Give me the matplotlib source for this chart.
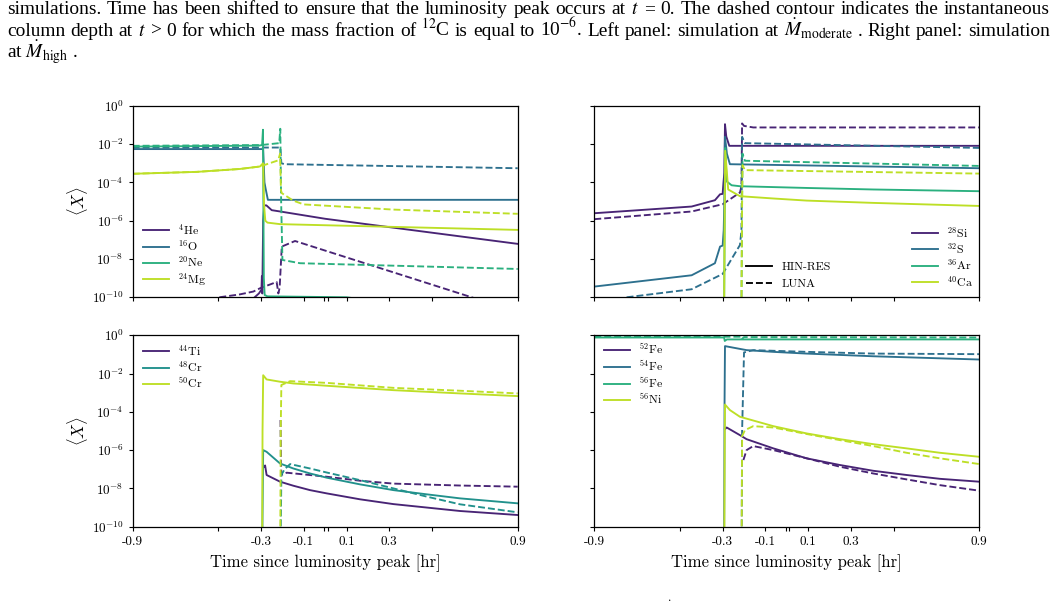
import re
import numpy as np
import matplotlib
matplotlib.use("Agg")
import matplotlib.pyplot as plt
from matplotlib.lines import Line2D
from matplotlib.ticker import FixedLocator, FixedFormatter, NullLocator

plt.rcParams['font.family'] = ['cmr10', 'DejaVu Serif']
plt.rcParams['mathtext.fontset'] = 'cm'
plt.rcParams['axes.unicode_minus'] = False
plt.rcParams['axes.formatter.use_mathtext'] = True

# ---------------- data (time in hr, log10 of mass fraction) ----------------
# Top-left panel: He, O, Ne, Mg
he4_sol_t = [-0.36, -0.33, -0.31, -0.298, -0.296, -0.294, -0.29, -0.285, -0.275, -0.25, -0.21, 0.0, 0.9]
he4_sol_x = [-10.3, -10.0, -9.8, -9.6, -8.9, -9.8, -6.0, -5.2, -5.2, -5.45, -5.52, -5.9, -7.21]
he4_dash_t = [-0.495, -0.4, -0.336, -0.305, -0.227, -0.219, -0.213, -0.203, -0.141, 0.685, 0.9]
he4_dash_x = [-10.0, -9.85, -9.7, -9.53, -9.2, -9.8, -9.5, -7.35, -7.06, -10.0, -10.8]
o16_sol_t = [-0.9, -0.29, -0.284, -0.279, -0.268, 0.9]
o16_sol_x = [-2.26, -2.26, -4.0, -4.3, -4.91, -4.91]
o16_dash_t = [-0.9, -0.21, -0.205, -0.19, 0.9]
o16_dash_x = [-2.18, -2.18, -3.0, -3.05, -3.26]
ne20_sol_t = [-0.9, -0.31, -0.295, -0.291, -0.287, -0.283, -0.27, 0.1, 0.3]
ne20_sol_x = [-2.13, -2.08, -2.05, -1.25, -9.0, -9.88, -9.95, -10.0, -10.3]
ne20_dash_t = [-0.9, -0.3, -0.215, -0.21, -0.206, -0.2, -0.118, 0.9]
ne20_dash_x = [-2.09, -2.05, -1.95, -1.2, -5.0, -8.05, -8.22, -8.52]
mg24_sol_t = [-0.9, -0.6, -0.4, -0.305, -0.295, -0.29, -0.286, -0.28, -0.27, -0.211, 0.9]
mg24_sol_x = [-3.55, -3.45, -3.3, -3.17, -3.05, -3.0, -5.17, -6.0, -6.1, -6.18, -6.48]
mg24_dash_t = [-0.9, -0.6, -0.4, -0.305, -0.22, -0.211, -0.207, -0.203, -0.15, -0.1, 0.319, 0.9]
mg24_dash_x = [-3.55, -3.45, -3.3, -3.17, -2.85, -2.5, -4.4, -4.56, -4.95, -5.15, -5.42, -5.64]

# Top-right panel: Si, S, Ar, Ca
si28_sol_t = [-0.9, -0.445, -0.336, -0.312, -0.3, -0.296, -0.292, -0.289, -0.283, -0.269, 0.9]
si28_sol_x = [-5.61, -5.26, -4.93, -4.62, -4.6, -4.0, -3.5, -0.96, -1.6, -2.09, -2.09]
si28_dash_t = [-0.9, -0.445, -0.3, -0.219, -0.212, -0.209, -0.2, -0.157, 0.9]
si28_dash_x = [-5.92, -5.52, -5.14, -4.53, -4.2, -0.92, -1.05, -1.13, -1.13]
s32_sol_t = [-0.9, -0.445, -0.336, -0.312, -0.3, -0.295, -0.292, -0.289, -0.28, -0.266, 0.9]
s32_sol_x = [-9.44, -8.85, -8.22, -7.35, -7.3, -6.5, -5.0, -1.62, -2.5, -3.05, -3.26]
s32_dash_t = [-0.749, -0.445, -0.3, -0.219, -0.212, -0.209, -0.196, 0.9]
s32_dash_x = [-10.0, -9.58, -8.78, -7.27, -6.5, -1.62, -1.95, -2.2]
ar36_sol_t = [-0.293, -0.29, -0.288, -0.281, -0.258, -0.219, 0.093, 0.404, 0.9]
ar36_sol_x = [-10.5, -5.0, -2.2, -3.95, -4.15, -4.2, -4.29, -4.37, -4.46]
ar36_dash_t = [-0.212, -0.209, -0.207, -0.196, 0.9]
ar36_dash_x = [-10.5, -5.0, -2.5, -2.87, -3.14]
ca40_sol_t = [-0.293, -0.29, -0.288, -0.274, -0.219, -0.063, 0.093, 0.404, 0.9]
ca40_sol_x = [-10.5, -5.0, -2.35, -4.37, -4.72, -4.84, -4.95, -5.07, -5.23]
ca40_dash_t = [-0.212, -0.209, -0.207, -0.196, 0.9]
ca40_dash_x = [-10.5, -5.0, -3.1, -3.36, -3.54]

# Bottom-left panel: Ti, Cr
ti44_sol_t = [-0.283, -0.281, -0.274, -0.211, -0.149, -0.071, 0.007, 0.163, 0.319, 0.475, 0.630, 0.9]
ti44_sol_x = [-6.87, -6.8, -7.3, -7.65, -7.86, -8.09, -8.26, -8.57, -8.82, -9.0, -9.18, -9.39]
ti44_dash_t = [-0.209, -0.207, -0.205, -0.18, 0.007, 0.163, 0.319, 0.630, 0.9]
ti44_dash_x = [-4.43, -6.5, -7.3, -7.18, -7.39, -7.6, -7.75, -7.85, -7.91]
cr48_sol_t = [-0.294, -0.29, -0.274, -0.211, -0.149, -0.071, 0.007, 0.163, 0.319, 0.475, 0.630, 0.9]
cr48_sol_x = [-10.5, -6.0, -6.09, -6.7, -6.96, -7.22, -7.44, -7.79, -8.09, -8.31, -8.52, -8.78]
cr48_dash_t = [-0.208, -0.205, -0.19, -0.164, -0.071, 0.007, 0.163, 0.319, 0.475, 0.630, 0.9]
cr48_dash_x = [-10.5, -7.3, -7.0, -6.73, -6.96, -7.17, -7.57, -8.0, -8.43, -8.83, -9.25]
cr50_sol_t = [-0.2945, -0.293, -0.29, -0.274, -0.211, -0.149, 0.007, 0.319, 0.630, 0.9]
cr50_sol_x = [-10.5, -5.0, -2.09, -2.31, -2.43, -2.52, -2.64, -2.87, -3.04, -3.18]
cr50_dash_t = [-0.21, -0.208, -0.205, -0.164, 0.007, 0.319, 0.630, 0.9]
cr50_dash_x = [-10.5, -5.0, -2.6, -2.40, -2.49, -2.75, -2.9, -3.04]

# Bottom-right panel: Fe, Ni
fe52_sol_t = [-0.289, -0.281, -0.219, -0.188, -0.063, 0.093, 0.249, 0.404, 0.560, 0.716, 0.9]
fe52_sol_x = [-4.9, -4.82, -5.22, -5.43, -5.91, -6.43, -6.78, -7.08, -7.30, -7.50, -7.65]
fe52_dash_t = [-0.203, -0.188, -0.157, -0.063, 0.093, 0.249, 0.404, 0.560, 0.716, 0.9]
fe52_dash_x = [-6.52, -6.0, -5.79, -6.0, -6.43, -6.87, -7.22, -7.53, -7.83, -8.12]
fe54_sol_t = [-0.293, -0.291, -0.289, -0.188, -0.063, 0.093, 0.404, 0.9]
fe54_sol_x = [-10.5, -3.5, -0.57, -0.78, -0.87, -0.96, -1.10, -1.27]
fe54_dash_t = [-0.211, -0.209, -0.2, -0.157, 0.093, 0.404, 0.9]
fe54_dash_x = [-10.5, -5.0, -0.9, -0.78, -0.87, -0.96, -0.99]
fe56_sol_t = [-0.9, -0.293, -0.29, -0.28, 0.9]
fe56_sol_x = [-0.12, -0.12, -0.3, -0.22, -0.22]
fe56_dash_t = [-0.9, -0.212, -0.21, -0.2, 0.9]
fe56_dash_x = [-0.08, -0.08, -0.2, -0.1, -0.12]
ni56_sol_t = [-0.292, -0.29, -0.289, -0.266, -0.219, -0.063, 0.093, 0.249, 0.404, 0.560, 0.716, 0.9]
ni56_sol_x = [-10.5, -5.0, -3.62, -3.91, -4.26, -4.75, -5.13, -5.43, -5.69, -5.91, -6.14, -6.35]
ni56_dash_t = [-0.211, -0.209, -0.21, -0.196, -0.157, -0.063, 0.093, 0.249, 0.404, 0.560, 0.716, 0.9]
ni56_dash_x = [-10.5, -5.5, -5.3, -4.96, -4.75, -4.82, -5.16, -5.48, -5.79, -6.14, -6.43, -6.73]

panel_tl = [(r'$^{4}$He', he4_sol_t, he4_sol_x, he4_dash_t, he4_dash_x),
            (r'$^{16}$O', o16_sol_t, o16_sol_x, o16_dash_t, o16_dash_x),
            (r'$^{20}$Ne', ne20_sol_t, ne20_sol_x, ne20_dash_t, ne20_dash_x),
            (r'$^{24}$Mg', mg24_sol_t, mg24_sol_x, mg24_dash_t, mg24_dash_x)]
panel_tr = [(r'$^{28}$Si', si28_sol_t, si28_sol_x, si28_dash_t, si28_dash_x),
            (r'$^{32}$S', s32_sol_t, s32_sol_x, s32_dash_t, s32_dash_x),
            (r'$^{36}$Ar', ar36_sol_t, ar36_sol_x, ar36_dash_t, ar36_dash_x),
            (r'$^{40}$Ca', ca40_sol_t, ca40_sol_x, ca40_dash_t, ca40_dash_x)]
panel_bl = [(r'$^{44}$Ti', ti44_sol_t, ti44_sol_x, ti44_dash_t, ti44_dash_x),
            (r'$^{48}$Cr', cr48_sol_t, cr48_sol_x, cr48_dash_t, cr48_dash_x),
            (r'$^{50}$Cr', cr50_sol_t, cr50_sol_x, cr50_dash_t, cr50_dash_x)]
panel_br = [(r'$^{52}$Fe', fe52_sol_t, fe52_sol_x, fe52_dash_t, fe52_dash_x),
            (r'$^{54}$Fe', fe54_sol_t, fe54_sol_x, fe54_dash_t, fe54_dash_x),
            (r'$^{56}$Fe', fe56_sol_t, fe56_sol_x, fe56_dash_t, fe56_dash_x),
            (r'$^{56}$Ni', ni56_sol_t, ni56_sol_x, ni56_dash_t, ni56_dash_x)]

xtick_vals = [-0.9, -0.5, -0.3, -0.1, -0.005, 0.011, 0.1, 0.3, 0.5, 0.9]
xtick_labels = ['-0.9', '', '-0.3', '-0.1', '', '', '0.1', '0.3', '', '0.9']
ytick_vals = [1e0, 1e-2, 1e-4, 1e-6, 1e-8, 1e-10]
ytick_labels = [r'$10^{0}$', r'$10^{-2}$', r'$10^{-4}$', r'$10^{-6}$', r'$10^{-8}$', r'$10^{-10}$']
style_labels = ['HIN-RES', 'LUNA']

caption_lines = [
    r"simulations. Time has been shifted to ensure that the luminosity peak occurs at $t$ = 0. The dashed contour indicates the instantaneous",
    r"column depth at $t$ > 0 for which the mass fraction of $^{12}$C is equal to 10$^{-6}$. Left panel: simulation at $\dot{M}_{\rm moderate}$ . Right panel: simulation",
    r"at $\dot{M}_{\rm high}$ .",
]

# ---------------- figure ----------------
W, H = 1056, 603
fig = plt.figure(figsize=(W / 100, H / 100), dpi=100)

ax_w = 385 / W
ax_h = 191.5 / H
left_l, left_r = 132.7 / W, 594.3 / W
bot_t, bot_b = (H - 297.3) / H, (H - 526.7) / H

ax_tl = fig.add_axes([left_l, bot_t, ax_w, ax_h])
ax_tr = fig.add_axes([left_r, bot_t, ax_w, ax_h])
ax_bl = fig.add_axes([left_l, bot_b, ax_w, ax_h])
ax_br = fig.add_axes([left_r, bot_b, ax_w, ax_h])

lw = 1.35


def draw(ax, series):
    cols = plt.cm.viridis(np.linspace(0.1, 0.9, len(series)))
    for (lab, ts, xs, td, xd), c in zip(series, cols):
        ax.plot(ts, 10.0 ** np.array(xs), color=c, lw=lw, label=lab)
        ax.plot(td, 10.0 ** np.array(xd), color=c, lw=lw, ls='--')
    ax.set_yscale('log')
    ax.set_xlim(-0.9, 0.9)
    ax.set_ylim(1e-10, 1e0)
    ax.xaxis.set_major_locator(FixedLocator(xtick_vals))
    ax.xaxis.set_minor_locator(NullLocator())
    ax.yaxis.set_major_locator(FixedLocator(ytick_vals))
    ax.yaxis.set_minor_locator(NullLocator())
    ax.tick_params(direction='out', length=3, width=0.8, labelsize=9.5)
    for s in ax.spines.values():
        s.set_linewidth(0.9)


for ax, ser in [(ax_tl, panel_tl), (ax_tr, panel_tr), (ax_bl, panel_bl), (ax_br, panel_br)]:
    draw(ax, ser)

for ax in (ax_tl, ax_tr):
    ax.xaxis.set_major_formatter(FixedFormatter([''] * len(xtick_vals)))
for ax in (ax_bl, ax_br):
    ax.xaxis.set_major_formatter(FixedFormatter(xtick_labels))
    ax.set_xlabel('Time since luminosity peak [hr]', fontsize=12, labelpad=4.5)
for ax in (ax_tl, ax_bl):
    ax.yaxis.set_major_formatter(FixedFormatter(ytick_labels))
    ax.set_ylabel(r'$\langle X\rangle$', fontsize=12, labelpad=1)
for ax in (ax_tr, ax_br):
    ax.yaxis.set_major_formatter(FixedFormatter([''] * len(ytick_vals)))

leg_kw = dict(frameon=False, fontsize=8.5, handlelength=2.2, handletextpad=0.8,
              labelspacing=0.12, borderpad=0.0, borderaxespad=0.0)
ax_tl.legend(loc='lower left', bbox_to_anchor=(0.026, 0.05), **leg_kw)
leg_sp = ax_tr.legend(loc='lower left', bbox_to_anchor=(0.824, 0.045), **leg_kw)
ax_tr.add_artist(leg_sp)
style_handles = [Line2D([], [], color='k', lw=lw), Line2D([], [], color='k', lw=lw, ls='--')]
style_kw = dict(leg_kw)
style_kw['labelspacing'] = 0.55
ax_tr.legend(style_handles, style_labels, loc='lower left',
             bbox_to_anchor=(0.394, 0.045), **style_kw)
ax_bl.legend(loc='upper left', bbox_to_anchor=(0.026, 0.96), **leg_kw)
ax_br.legend(loc='upper left', bbox_to_anchor=(0.025, 0.965), **leg_kw)

# ---------------- caption (justified) ----------------
renderer = fig.canvas.get_renderer()
x0, x1 = 7.0, 1050.0
probe = fig.text(0, 0, caption_lines[0], family='Liberation Serif', fontsize=12,
                 math_fontfamily='stix')
nat_w = probe.get_window_extent(renderer).width
probe.remove()
cap_fs = 12 * (x1 - x0) / nat_w * 0.985
cap_kw = dict(family='Liberation Serif', fontsize=cap_fs, math_fontfamily='stix', va='baseline')
baselines = [14.0, 36.0, 58.0]
for i, line in enumerate(caption_lines):
    yb = 1 - baselines[i] / H
    if i == len(caption_lines) - 1:
        fig.text(x0 / W, yb, line, **cap_kw)
        continue
    words = re.findall(r'(?:\$[^$]*\$|\S)+', line)
    arts = [fig.text(0, yb, w, **cap_kw) for w in words]
    widths = [a.get_window_extent(renderer).width for a in arts]
    gap = (x1 - x0 - sum(widths)) / (len(words) - 1)
    x = x0
    for a, wd in zip(arts, widths):
        a.set_x(x / W)
        x += wd + gap

fig.text(668 / W, 1 - 601 / H, '.', fontsize=9)

fig.savefig('out.png', dpi=100)
